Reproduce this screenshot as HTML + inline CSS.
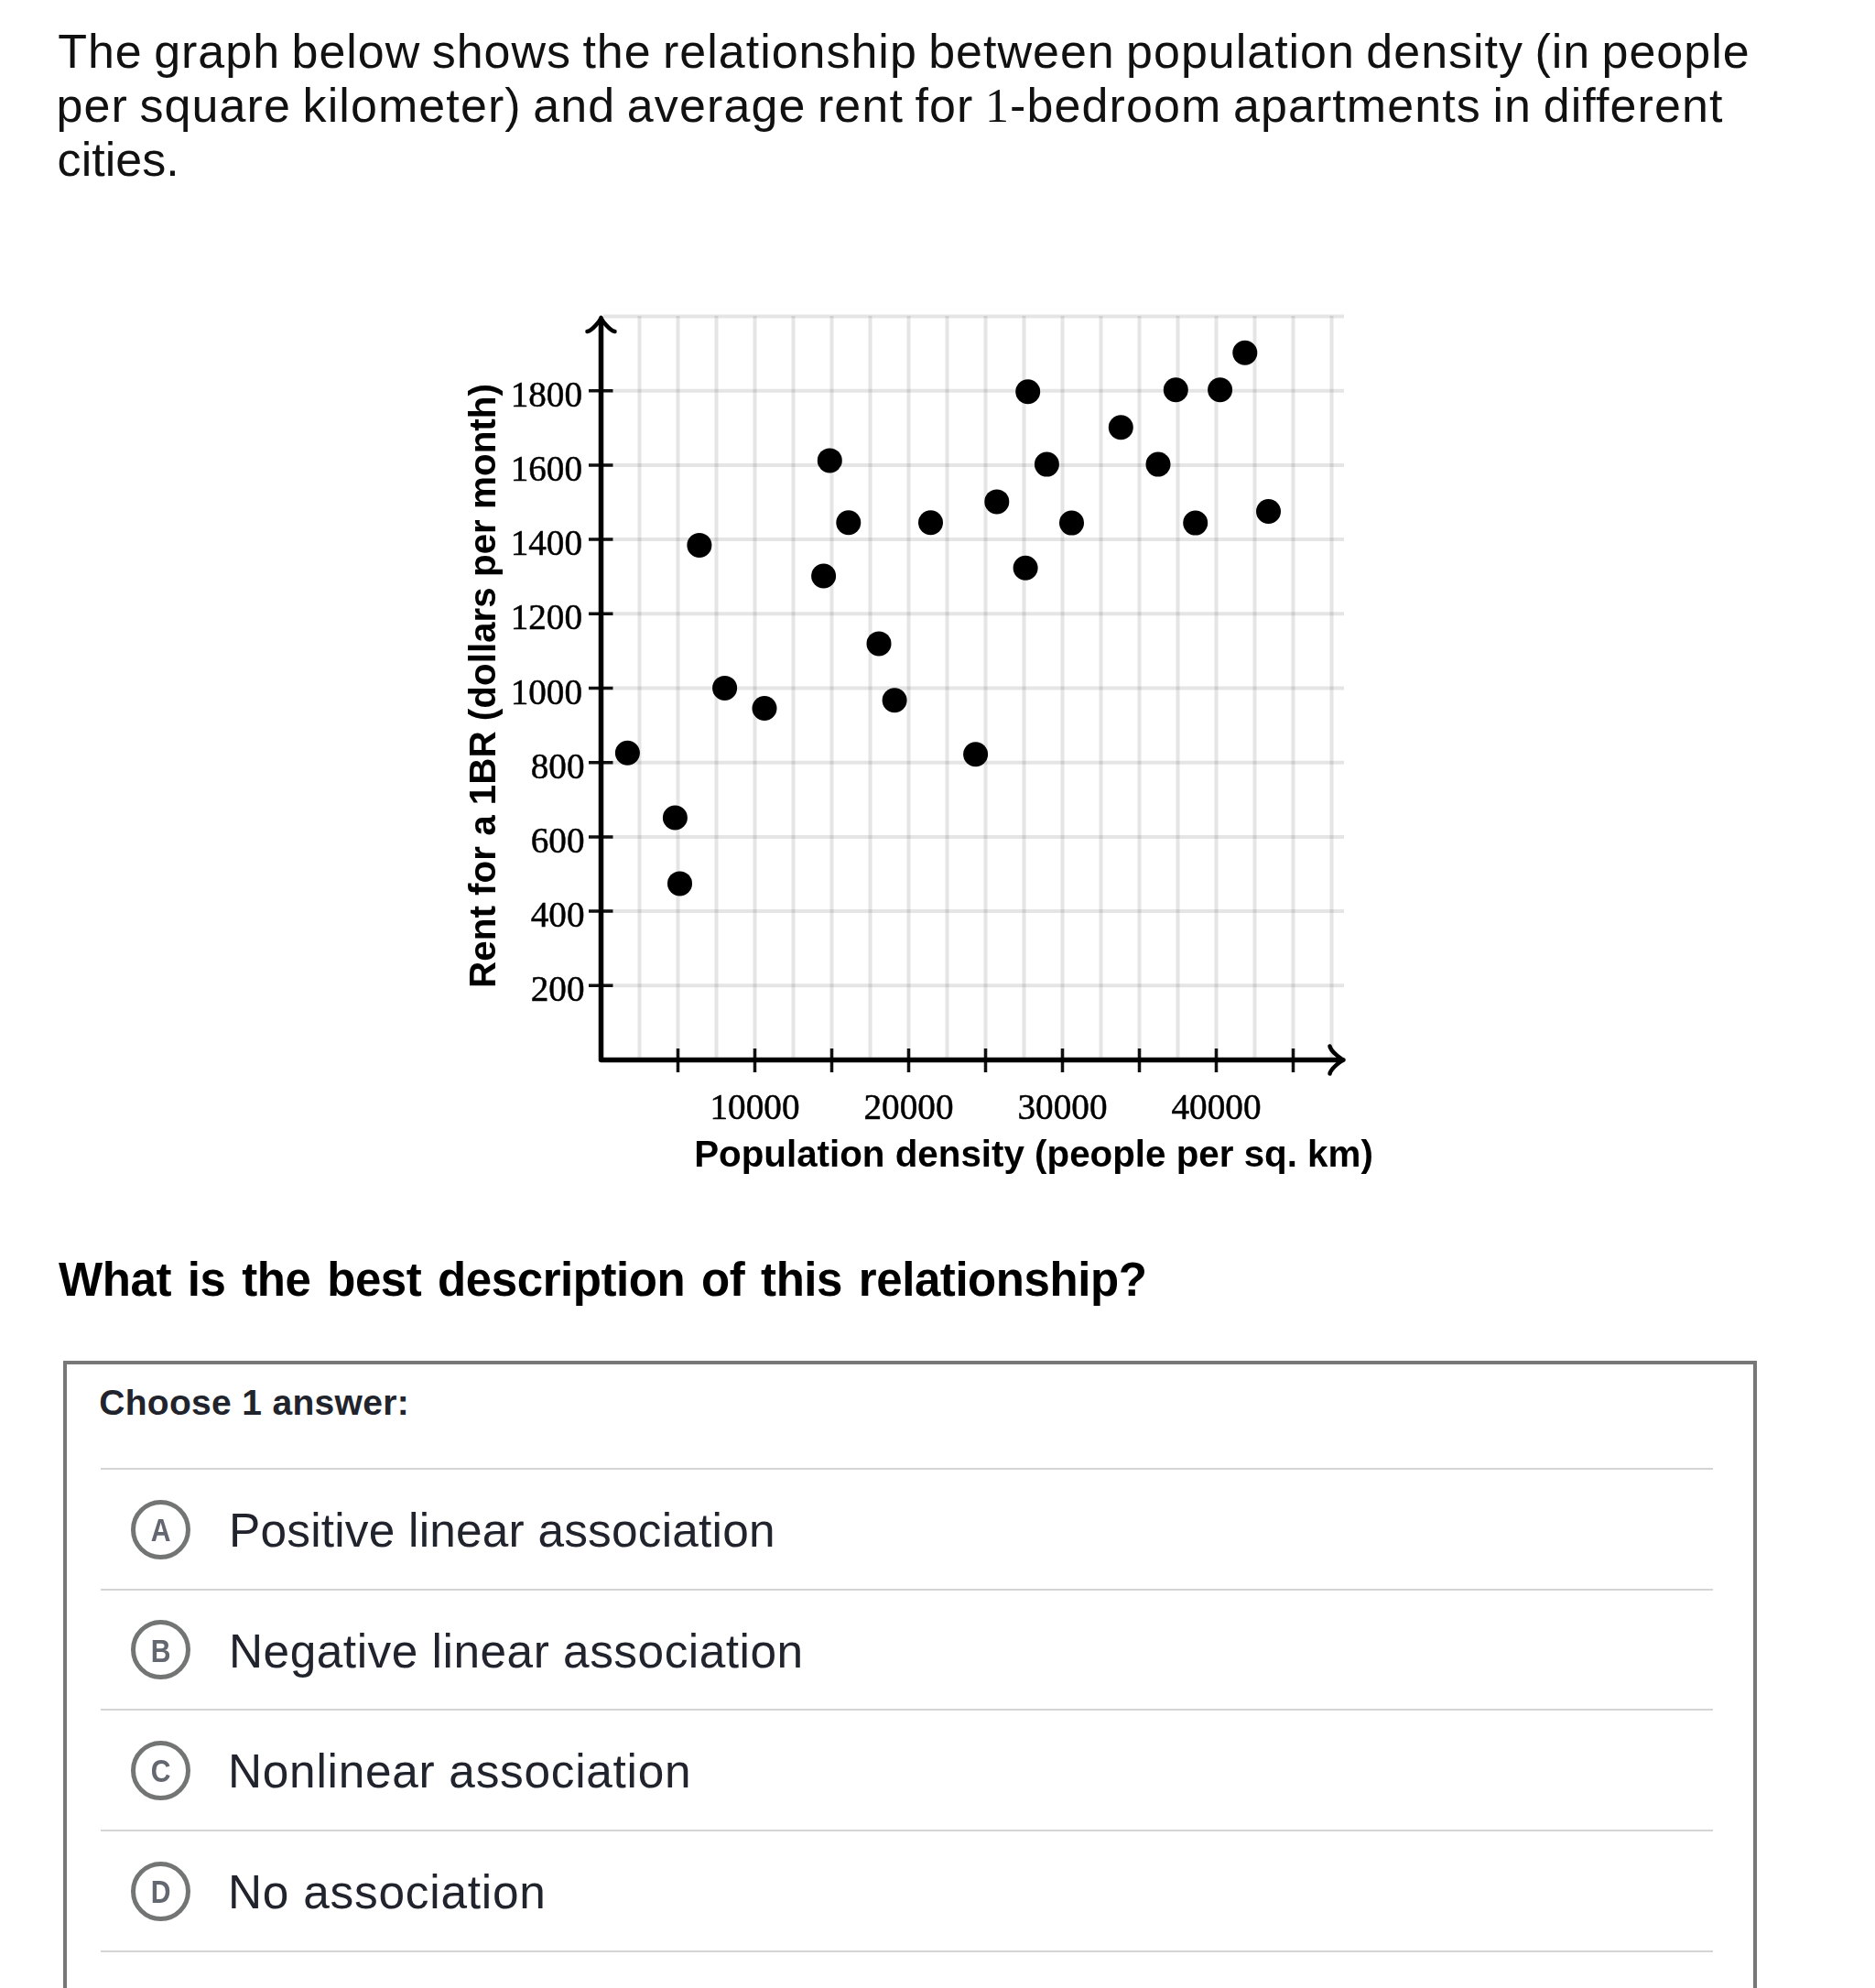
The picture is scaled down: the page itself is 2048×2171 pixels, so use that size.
<!DOCTYPE html>
<html><head><meta charset="utf-8"><title>Population density vs rent</title>
<style>
html,body{margin:0;padding:0;background:#fff;width:2048px;height:2171px;overflow:hidden;}
body{position:relative;font-family:"Liberation Sans",sans-serif;color:#21242c;}
.pl{position:absolute;line-height:1;white-space:nowrap;color:#111;}
.m{font-family:"Liberation Serif",serif;}
.chart{position:absolute;left:0;top:0;filter:blur(0.5px);}
.q{position:absolute;font-weight:700;line-height:1;white-space:nowrap;color:#000;}
.box{position:absolute;left:69px;top:1486px;width:1842px;height:800px;border:4px solid #777;}
.choose{position:absolute;font-weight:700;line-height:1;white-space:nowrap;}
.sep{position:absolute;left:110px;width:1761px;height:2px;background:#d4d4d4;}
.circ{position:absolute;left:142.5px;width:55px;height:55px;border:5px solid #737575;border-radius:50%;}
.circ span{position:absolute;left:0;width:55px;text-align:center;font-size:35px;font-weight:700;line-height:1;color:#636770;transform:scaleX(0.86);}
.otxt{position:absolute;line-height:1;white-space:nowrap;}
</style></head>
<body>
<div class="pl" style="left:63.2px;top:30.0px;font-size:52px;letter-spacing:0.981px;word-spacing:-3.000px">The graph below shows the relationship between population density (in people</div>
<div class="pl" style="left:61.5px;top:89.3px;font-size:52px;letter-spacing:1.092px;word-spacing:-3.000px">per square kilometer) and average rent for <span class="m">1</span>-bedroom apartments in different</div>
<div class="pl" style="left:62.6px;top:148.3px;font-size:52px;letter-spacing:0.033px;word-spacing:0.000px">cities.</div>
<svg class="chart" width="2048" height="1320" viewBox="0 0 2048 1320">
<path d="M698.5 345V1157 M740.5 345V1157 M782.5 345V1157 M824.5 345V1157 M866.5 345V1157 M908.5 345V1157 M950.5 345V1157 M992.5 345V1157 M1034.5 345V1157 M1076.5 345V1157 M1118.5 345V1157 M1160.5 345V1157 M1202.5 345V1157 M1244.5 345V1157 M1286.5 345V1157 M1328.5 345V1157 M1370.5 345V1157 M1412.5 345V1157 M1454.5 345V1157" stroke="rgba(0,0,0,0.1)" stroke-width="4" fill="none"/>
<path d="M659 1076.3H1468 M659 995.1H1468 M659 913.9H1468 M659 832.7H1468 M659 751.5H1468 M659 670.3H1468 M659 589.1H1468 M659 507.9H1468 M659 426.7H1468 M659 345.5H1468" stroke="rgba(0,0,0,0.1)" stroke-width="4" fill="none"/>
<path d="M643 1076.3H669.5 M643 995.1H669.5 M643 913.9H669.5 M643 832.7H669.5 M643 751.5H669.5 M643 670.3H669.5 M643 589.1H669.5 M643 507.9H669.5 M643 426.7H669.5 M740.5 1145V1171 M824.5 1145V1171 M908.5 1145V1171 M992.5 1145V1171 M1076.5 1145V1171 M1160.5 1145V1171 M1244.5 1145V1171 M1328.5 1145V1171 M1412.5 1145V1171" stroke="#111" stroke-width="3.5" fill="none"/>
<path d="M656.5 348V1157.5H1466" stroke="#000" stroke-width="5.5" fill="none" stroke-linejoin="round"/>
<path d="M641.5 362C647 361 655.5 350 656.5 346.8C657.5 350 666 361 671.5 362" stroke="#000" stroke-width="4.5" fill="none" stroke-linecap="round" stroke-linejoin="round"/>
<path d="M1452.5 1142.5C1453.5 1148 1464.5 1156.5 1467.5 1157.5C1464.5 1158.5 1453.5 1167 1452.5 1172.5" stroke="#000" stroke-width="4.5" fill="none" stroke-linecap="round" stroke-linejoin="round"/>
<g fill="#000"><circle cx="685.4" cy="822.2" r="13.5"/><circle cx="737.4" cy="893" r="13.5"/><circle cx="742.5" cy="964.9" r="13.5"/><circle cx="763.9" cy="595.4" r="13.5"/><circle cx="791.6" cy="751.4" r="13.5"/><circle cx="835" cy="773.5" r="13.5"/><circle cx="899.6" cy="629" r="13.5"/><circle cx="906.3" cy="502.9" r="13.5"/><circle cx="926.8" cy="570.7" r="13.5"/><circle cx="960" cy="702.9" r="13.5"/><circle cx="977.1" cy="764.8" r="13.5"/><circle cx="1016.5" cy="570.7" r="13.5"/><circle cx="1065.6" cy="823.8" r="13.5"/><circle cx="1088.8" cy="547.9" r="13.5"/><circle cx="1120.1" cy="620.3" r="13.5"/><circle cx="1122.7" cy="427.8" r="13.5"/><circle cx="1143.4" cy="507.1" r="13.5"/><circle cx="1170.5" cy="571.1" r="13.5"/><circle cx="1224.3" cy="466.7" r="13.5"/><circle cx="1265" cy="507.1" r="13.5"/><circle cx="1284.3" cy="425.7" r="13.5"/><circle cx="1305.7" cy="571.1" r="13.5"/><circle cx="1332.6" cy="425.7" r="13.5"/><circle cx="1359.8" cy="385.3" r="13.5"/><circle cx="1385.5" cy="558.5" r="13.5"/></g>
<g font-family="Liberation Serif" font-size="39.2" fill="#000" stroke="#000" stroke-width="0.5" text-anchor="end">
<text x="638.5" y="1093.3">200</text>
<text x="638.5" y="1012.1">400</text>
<text x="638.5" y="930.9">600</text>
<text x="638.5" y="849.7">800</text>
<text x="636" y="768.5">1000</text>
<text x="636" y="687.3">1200</text>
<text x="636" y="606.1">1400</text>
<text x="636" y="524.9">1600</text>
<text x="636" y="443.7">1800</text>
</g>
<g font-family="Liberation Serif" font-size="39.2" fill="#000" stroke="#000" stroke-width="0.5" text-anchor="middle">
<text x="824.5" y="1222">10000</text>
<text x="992.5" y="1222">20000</text>
<text x="1160.5" y="1222">30000</text>
<text x="1328.5" y="1222">40000</text>
</g>
<text x="1129" y="1274.3" font-family="Liberation Sans" font-weight="700" font-size="40.35" text-anchor="middle" fill="#000">Population density (people per sq. km)</text>
<text transform="translate(540.8 749) rotate(-90)" font-family="Liberation Sans" font-weight="700" font-size="40.4" text-anchor="middle" fill="#000">Rent for a 1BR (dollars per month)</text>
</svg>
<div class="q" style="left:64.1px;top:1371.6px;font-size:51px;letter-spacing:-0.430px;word-spacing:4.032px">What is the best description of this relationship?</div>
<div class="box"></div>
<div class="choose" style="left:108.2px;top:1512.0px;font-size:39px;letter-spacing:0.320px;word-spacing:0.000px">Choose 1 answer:</div>
<div class="sep" style="top:1603.0px"></div>
<div class="sep" style="top:1734.7px"></div>
<div class="sep" style="top:1866.4px"></div>
<div class="sep" style="top:1998.1px"></div>
<div class="sep" style="top:2129.8px"></div>
<div class="opt">
<div class="circ" style="top:1637.5px"><span style="top:10.4px">A</span></div>
<div class="otxt" style="left:250.0px;top:1646.3px;font-size:51.4px;letter-spacing:0.200px;word-spacing:0.000px">Positive linear association</div>
</div>
<div class="opt">
<div class="circ" style="top:1769.2px"><span style="top:10.4px">B</span></div>
<div class="otxt" style="left:250.0px;top:1778.1px;font-size:51.4px;letter-spacing:0.500px;word-spacing:0.000px">Negative linear association</div>
</div>
<div class="opt">
<div class="circ" style="top:1900.9px"><span style="top:10.4px">C</span></div>
<div class="otxt" style="left:249.0px;top:1909.2px;font-size:51.4px;letter-spacing:0.710px;word-spacing:0.000px">Nonlinear association</div>
</div>
<div class="opt">
<div class="circ" style="top:2032.6px"><span style="top:10.4px">D</span></div>
<div class="otxt" style="left:249.0px;top:2041.0px;font-size:51.4px;letter-spacing:0.754px;word-spacing:0.000px">No association</div>
</div>

</body></html>
